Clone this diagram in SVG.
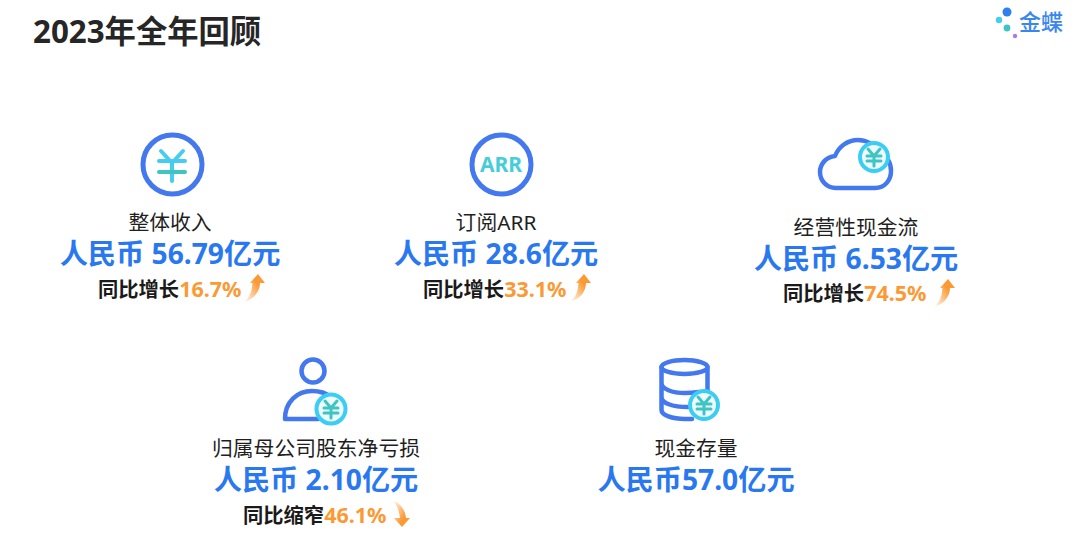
<svg xmlns="http://www.w3.org/2000/svg" width="1080" height="550" viewBox="0 0 1080 550">
<style>
text{font-family:"Noto Sans","Noto Sans CJK SC",sans-serif}
.lab{font-size:20.800px;fill:#1f1f1f;text-anchor:middle}
.val{font-size:28.200px;font-weight:700;fill:#2a78f0;text-anchor:middle}
.yoy{font-size:20.300px;font-weight:700;fill:#1a1a1a}
.pct{fill:#fb9a35;font-size:21.500px}
.ring{fill:none;stroke:#4478ee;stroke-width:5}
.ln{fill:none;stroke:#4478ee;stroke-width:4.500;stroke-linecap:round;stroke-linejoin:round}
.badge{fill:#eefbfd;stroke:#3ccdf5;stroke-width:4}
.yen{fill:none;stroke:#3fc4c4;stroke-width:3;stroke-linecap:round;stroke-linejoin:round}
</style>
<defs>
<linearGradient id="up" x1="0" y1="1" x2="1" y2="0"><stop offset="0" stop-color="#fb9a35" stop-opacity="0"/><stop offset="0.65" stop-color="#fb9a35"/></linearGradient>
<linearGradient id="down" x1="0" y1="0" x2="1" y2="1"><stop offset="0" stop-color="#fb9a35" stop-opacity="0"/><stop offset="0.65" stop-color="#fb9a35"/></linearGradient>
<path id="arrowUp" fill="url(#up)" d="M-11 14C-5 11-2 4-1.500-5L-4-5 4-14 11-5 6-5C6 4-1 12-11 14Z"/>
<path id="arrowDown" fill="url(#down)" d="M-10-14C-2-11 3-5 4 4L8 4 0 13-8 4-2 4C-3-3-5-10-10-14Z"/>
<g id="yenB"><path class="yen" d="M-6-8 0-1 6-8M-7-1H7M-7 4H7M0-1V9"/></g>
</defs>
<g id="title"><text x="33" y="43" font-size="31.300" font-weight="700" fill="#262626">2023年全年回顾</text></g>
<g id="logo">
<circle cx="1007" cy="12" r="4.500" fill="#2f7ff0"/><circle cx="999" cy="20" r="3.200" fill="#45cdf0"/><circle cx="1007" cy="28" r="3.400" fill="#3fc4c4"/><circle cx="1015" cy="36" r="2.200" fill="#a77be8"/>
<text x="1019" y="30" font-size="22" font-weight="500" fill="#3a86ee">金蝶</text>
</g>
<g id="income">
<circle class="ring" cx="172.500" cy="164.500" r="29.500"/>
<path d="M161 151 172 163 183 151M159 161H185M172 163V181" fill="none" stroke="#45cdf0" stroke-width="4" stroke-linecap="round" stroke-linejoin="round"/>
<path d="M159 172H185" stroke="#3fc4c4" stroke-width="4" stroke-linecap="round"/>
<text class="lab" x="170" y="230">整体收入</text>
<text class="val" x="170" y="264">人民币 56.79亿元</text>
<text class="yoy" x="98" y="297">同比增长<tspan class="pct">16.7%</tspan></text>
<use href="#arrowUp" x="254" y="288"/>
</g>
<g id="arr">
<circle class="ring" cx="501.500" cy="164.500" r="29.500"/>
<text x="501" y="172" font-size="21" font-weight="700" fill="#45cdd8" text-anchor="middle">ARR</text>
<text class="lab" x="496" y="230">订阅ARR</text>
<text class="val" x="496" y="264">人民币 28.6亿元</text>
<text class="yoy" x="423" y="297">同比增长<tspan class="pct">33.1%</tspan></text>
<use href="#arrowUp" x="580" y="288"/>
</g>
<g id="cashflow">
<path class="ln" d="M836 188C826 188 820 180 820 172C820 164 826 157 835 156C839 146 848 140 858 140C867 140 875 145 879 153C887 155 891 163 891 171C891 180 885 188 875 188Z"/>
<circle class="badge" cx="874" cy="157" r="14"/>
<use href="#yenB" x="874" y="157"/>
<text class="lab" x="856" y="235">经营性现金流</text>
<text class="val" x="856" y="269">人民币 6.53亿元</text>
<text class="yoy" x="783" y="301">同比增长<tspan class="pct">74.5%</tspan></text>
<use href="#arrowUp" x="944" y="293"/>
</g>
<g id="netloss">
<circle class="ln" cx="313" cy="371" r="11.500"/>
<path class="ln" d="M285 419C285 402 297 391 312 391C320 391 326 393 331 397M285 419H318"/>
<circle class="badge" cx="331" cy="409" r="14.500"/>
<use href="#yenB" x="331" y="409"/>
<text class="lab" x="316" y="456">归属母公司股东净亏损</text>
<text class="val" x="316" y="490">人民币 2.10亿元</text>
<text class="yoy" x="243" y="523">同比缩窄<tspan class="pct">46.1%</tspan></text>
<use href="#arrowDown" x="402" y="514"/>
</g>
<g id="cash">
<ellipse class="ln" cx="684.500" cy="367" rx="23" ry="7"/>
<path class="ln" d="M661.500 367V410C661.500 415 672 419 685 419H692M707.500 367V392M661.500 383C661.500 389 672 393 685 393C690 393 695 392.500 699 392M661.500 397C661.500 403 672 407 688 407"/>
<circle class="badge" cx="704" cy="405" r="14"/>
<use href="#yenB" x="704" y="405"/>
<text class="lab" x="696" y="456">现金存量</text>
<text class="val" x="696" y="490">人民币57.0亿元</text>
</g>
</svg>
